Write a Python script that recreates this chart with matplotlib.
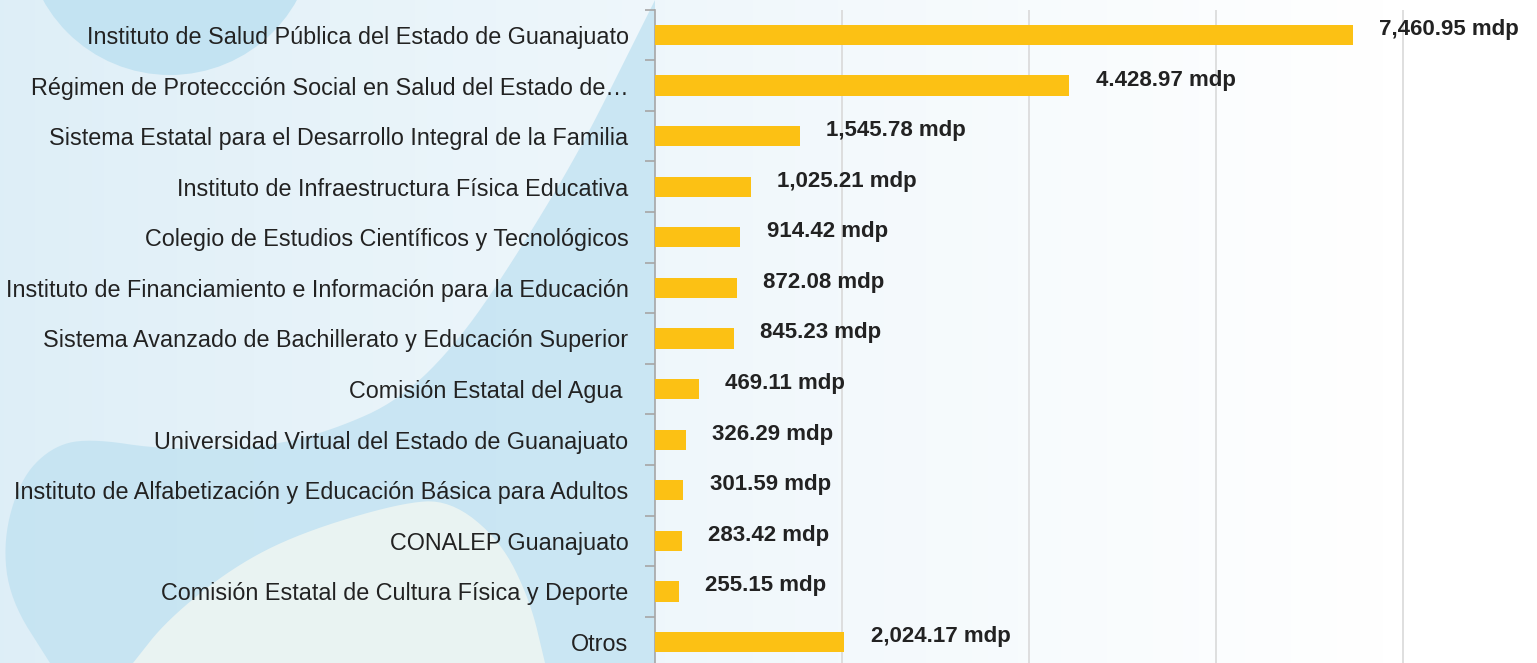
import numpy as np
import matplotlib.pyplot as plt
from matplotlib.patches import Circle, Polygon

plt.rcParams['font.family'] = ['Liberation Sans Narrow', 'Liberation Sans', 'DejaVu Sans']

categories = [
    'Instituto de Salud Pública del Estado de Guanajuato',
    'Régimen de Proteccción Social en Salud del Estado de…',
    'Sistema Estatal para el Desarrollo Integral de la Familia',
    'Instituto de Infraestructura Física Educativa',
    'Colegio de Estudios Científicos y Tecnológicos',
    'Instituto de Financiamiento e Información para la Educación',
    'Sistema Avanzado de Bachillerato y Educación Superior',
    'Comisión Estatal del Agua ',
    'Universidad Virtual del Estado de Guanajuato',
    'Instituto de Alfabetización y Educación Básica para Adultos',
    'CONALEP Guanajuato',
    'Comisión Estatal de Cultura Física y Deporte',
    'Otros',
]
values = [7460.95, 4428.97, 1545.78, 1025.21, 914.42, 872.08, 845.23,
          469.11, 326.29, 301.59, 283.42, 255.15, 2024.17]
value_labels = ['7,460.95 mdp', '4.428.97 mdp', '1,545.78 mdp', '1,025.21 mdp',
                '914.42 mdp', '872.08 mdp', '845.23 mdp', '469.11 mdp',
                '326.29 mdp', '301.59 mdp', '283.42 mdp', '255.15 mdp',
                '2,024.17 mdp']


def smooth(pts, n=3):
    # chaikin corner cutting, just to soften the background shapes
    pts = np.asarray(pts, float)
    for _ in range(n):
        a = pts[:-1]
        b = pts[1:]
        q = 0.75 * a + 0.25 * b
        r = 0.25 * a + 0.75 * b
        pts = np.vstack([pts[:1], np.column_stack([q, r]).reshape(-1, 2), pts[-1:]])
    return pts


W, H = 1537, 663
fig = plt.figure(figsize=(W / 100, H / 100), dpi=100)

# background
bg = fig.add_axes([0, 0, 1, 1], zorder=0)
bg.set_xlim(0, W)
bg.set_ylim(H, 0)
bg.axis('off')
xs = np.linspace(0, 1, 400)
left = np.array([0.87, 0.935, 0.97])
right = np.array([1.0, 1.0, 1.0])
t = np.clip(xs / 0.9, 0, 1)[:, None] ** 0.9
grad = (left * (1 - t) + right * t)[None, :, :]
bg.imshow(grad, extent=[0, W, H, 0], aspect='auto', zorder=0)
bg.add_patch(Circle((170, -70), 145, color='#c3e3f2', lw=0, zorder=1))

band = smooth([(50, 663), (10, 600), (3, 540), (20, 480), (50, 448), (87, 438),
               (167, 450), (267, 447), (333, 430), (400, 400), (460, 340),
               (520, 250), (580, 150), (630, 50), (655, 0)])
band = np.vstack([band, [(655, 663)]])
bg.add_patch(Polygon(band, closed=True, color='#bfe1f1', alpha=0.75, lw=0, zorder=1))
pale = smooth([(133, 663), (167, 620), (233, 567), (300, 533), (400, 503), (450, 500),
               (500, 540), (530, 600), (545, 663)])
bg.add_patch(Polygon(pale, closed=True, color='#e9f3f2', lw=0, zorder=2))

ax = fig.add_axes([655 / W, -4.3 / H, (W - 655) / W, 657.6 / H], zorder=1)
ax.patch.set_alpha(0)
y = np.arange(len(categories))
ax.barh(y, values, height=0.4, color='#fcc114', zorder=3)
ax.set_xlim(0, 9433)
ax.set_ylim(len(categories) - 0.5, -0.5)
ax.set_xticks([2000, 4000, 6000, 8000])
ax.set_xticklabels([])
ax.tick_params(axis='x', length=0)
ax.grid(axis='x', color='#d9d9d9', lw=1.2, zorder=0)

ax.set_yticks(y)
ax.set_yticklabels(categories, fontsize=16.8, color='#222222')
ax.set_yticks(np.arange(len(categories) + 1) - 0.5, minor=True)
ax.tick_params(axis='y', which='major', length=0, pad=19)
ax.tick_params(axis='y', which='minor', length=7, width=1.2, color='#a6a6a6')

for s in ['top', 'right', 'bottom']:
    ax.spines[s].set_visible(False)
ax.spines['left'].set_color('#a6a6a6')
ax.spines['left'].set_linewidth(1.2)

for i, (v, lab) in enumerate(zip(values, value_labels)):
    ax.annotate(lab, (v, i), xytext=(19, 4), textcoords='offset points',
                ha='left', va='center', fontsize=16, fontweight='bold',
                color='#222222')

fig.savefig('out.png', dpi=100)
